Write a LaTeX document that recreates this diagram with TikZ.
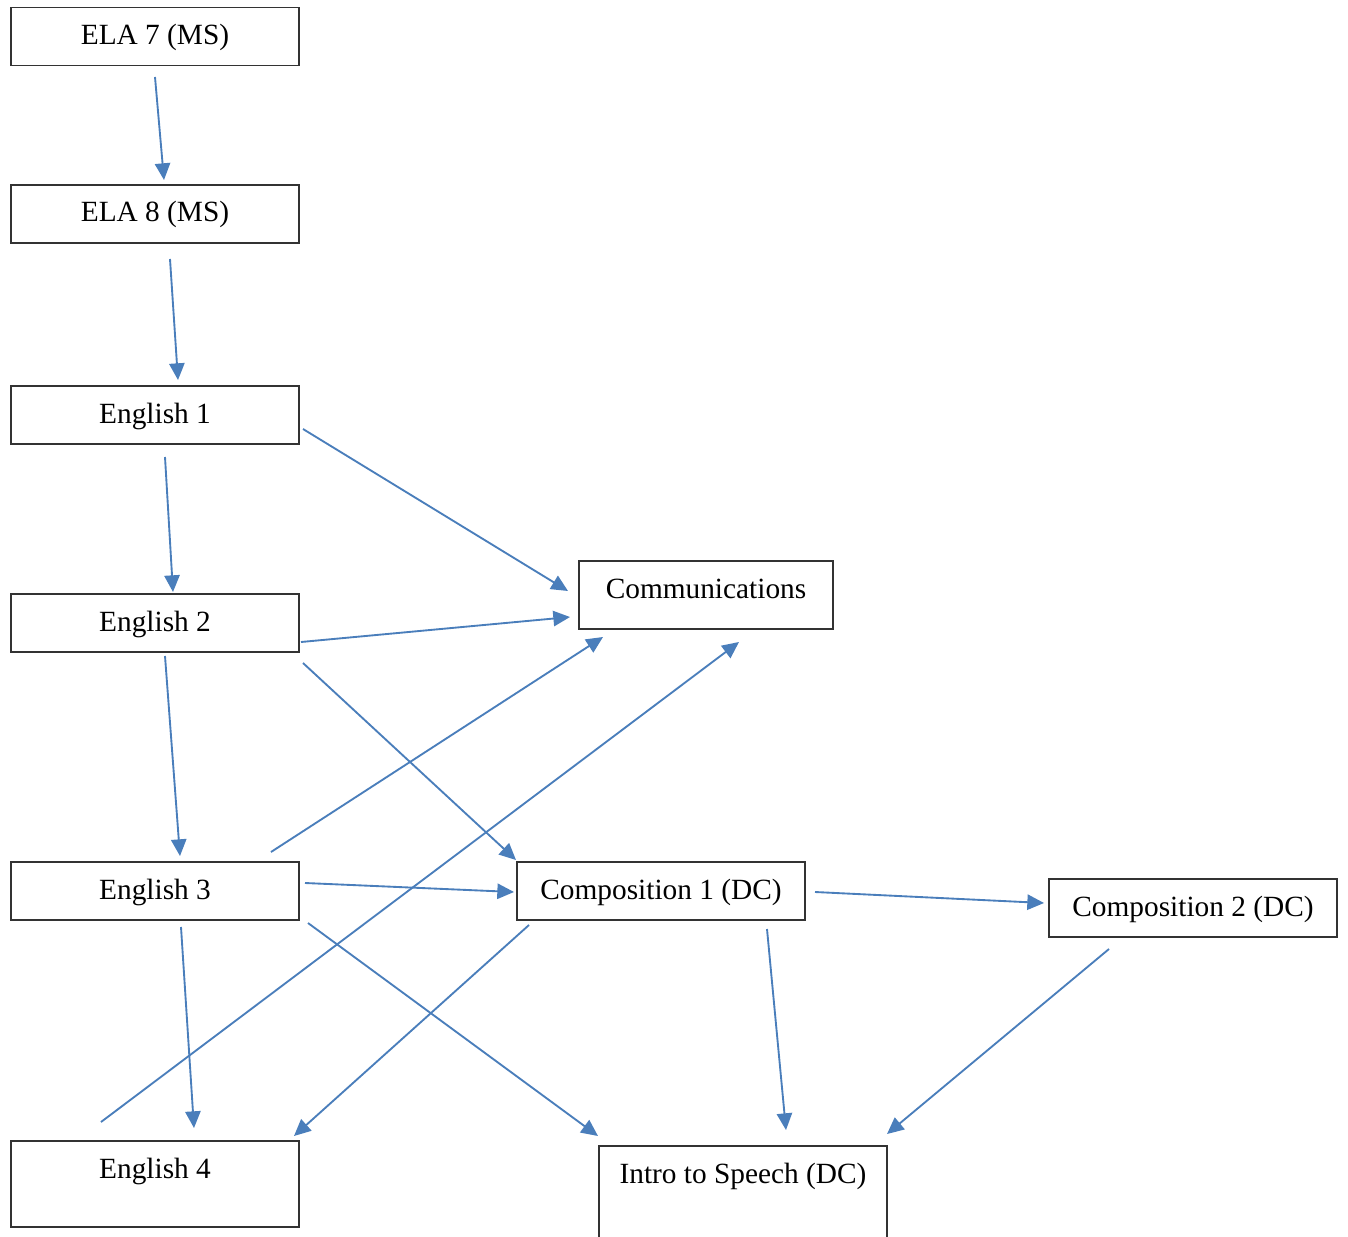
\documentclass[tikz,border=0pt]{standalone}
\usepackage{fontspec}
\setmainfont{Liberation Serif}
\usetikzlibrary{arrows.meta}
\definecolor{arrowblue}{HTML}{4A7EBB}
\begin{document}
\begin{tikzpicture}[x=0.75pt,y=-0.75pt,
  box/.style={draw=black!80, line width=0.9pt, inner sep=0pt, outer sep=0pt, rectangle},
  lbl/.style={anchor=base, inner sep=0pt, font=\fontsize{22}{26}\selectfont},
  conn/.style={draw=arrowblue, line width=1.4pt, -{Triangle[length=12.5pt,width=11.5pt]}}]
\useasboundingbox (0,0) rectangle (1348,1237);
% boxes
\node[box, minimum width=216pt, minimum height=43.5pt] (ela7) at (155,36.5) {};
\node[box, minimum width=216pt, minimum height=43.5pt] (ela8) at (155,214) {};
\node[box, minimum width=216pt, minimum height=43.5pt] (e1) at (155,415) {};
\node[box, minimum width=216pt, minimum height=43.5pt] (e2) at (155,623) {};
\node[box, minimum width=216pt, minimum height=43.5pt] (e3) at (155,891) {};
\node[box, minimum width=216pt, minimum height=64.5pt] (e4) at (155,1184) {};
\node[box, minimum width=190.5pt, minimum height=51pt] (comm) at (706,595) {};
\node[box, minimum width=216pt, minimum height=43.5pt] (c1) at (661,891) {};
\node[box, minimum width=216pt, minimum height=43.5pt] (c2) at (1193,908) {};
\node[box, minimum width=216pt, minimum height=90pt] (sp) at (743,1206) {};
% labels
\node[lbl] (tela7) at ([yshift=-27.75pt]ela7.north) {ELA 7 (MS)};
\node[lbl] (tela8) at ([yshift=-27.75pt]ela8.north) {ELA 8 (MS)};
\node[lbl] (te1) at ([yshift=-27.75pt]e1.north) {English 1};
\node[lbl] (te2) at ([yshift=-27.75pt]e2.north) {English 2};
\node[lbl] (te3) at ([yshift=-27.75pt]e3.north) {English 3};
\node[lbl] (te4) at ([yshift=-27.75pt]e4.north) {English 4};
\node[lbl] (tcomm) at ([yshift=-27.75pt]comm.north) {Communications};
\node[lbl] (tc1) at ([yshift=-27.75pt]c1.north) {Composition 1 (DC)};
\node[lbl] (tc2) at ([yshift=-27.75pt]c2.north) {Composition 2 (DC)};
\node[lbl] (tsp) at ([yshift=-27.75pt]sp.north) {Intro to Speech (DC)};
% connector end points
\coordinate (a1s) at (155,77);   \coordinate (a1e) at (164,180);
\coordinate (a2s) at (170,259);  \coordinate (a2e) at (178,380);
\coordinate (a3s) at (165,457);  \coordinate (a3e) at (173,592);
\coordinate (a4s) at (303,429);  \coordinate (a4e) at (568,591);
\coordinate (a5s) at (301,642);  \coordinate (a5e) at (570,617);
\coordinate (a6s) at (165,656);  \coordinate (a6e) at (180,856);
\coordinate (a7s) at (303,663);  \coordinate (a7e) at (516,860);
\coordinate (a8s) at (271,852);  \coordinate (a8e) at (603,637);
\coordinate (a9s) at (101,1122); \coordinate (a9e) at (739,642);
\coordinate (a10s) at (305,883); \coordinate (a10e) at (514,892);
\coordinate (a11s) at (181,927); \coordinate (a11e) at (194,1128);
\coordinate (a12s) at (308,923); \coordinate (a12e) at (598,1136);
\coordinate (a13s) at (529,925); \coordinate (a13e) at (294,1136);
\coordinate (a14s) at (815,892); \coordinate (a14e) at (1044,903);
\coordinate (a15s) at (767,929); \coordinate (a15e) at (786,1130);
\coordinate (a16s) at (1109,949); \coordinate (a16e) at (887,1134);
% connectors
\foreach \i in {1,...,16} {\draw[conn] (a\i s) -- (a\i e);}
\end{tikzpicture}
\end{document}
